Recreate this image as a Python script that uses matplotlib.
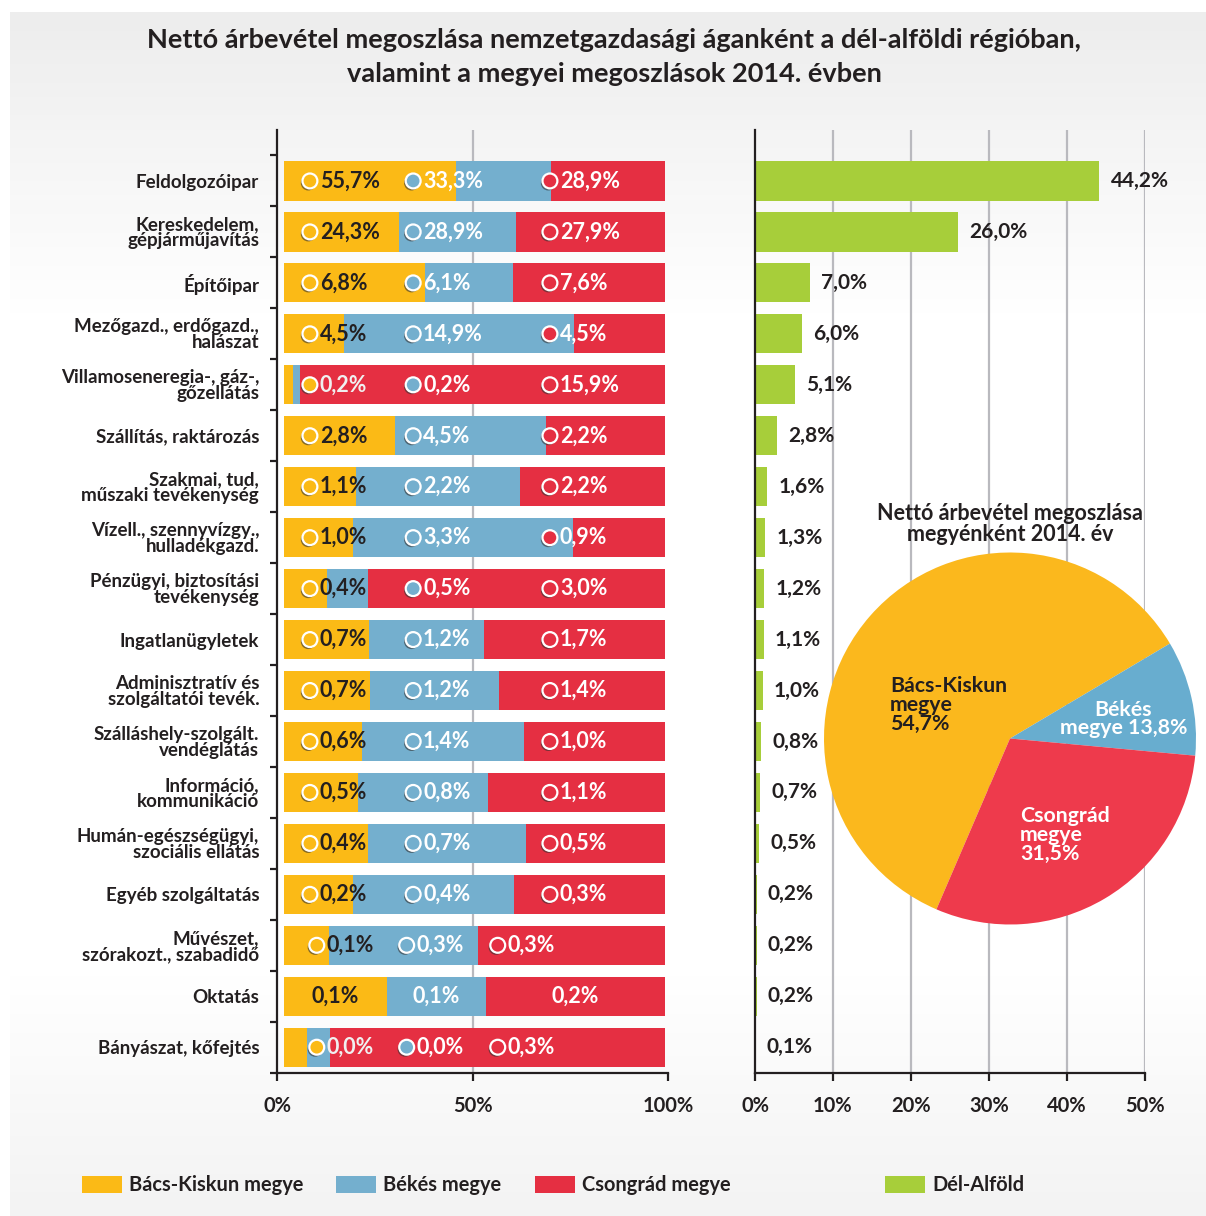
import matplotlib
matplotlib.use('Agg')
import matplotlib.pyplot as plt
import numpy as np
from matplotlib.patches import Patch
from matplotlib.colors import LinearSegmentedColormap
import matplotlib.patheffects as pe

plt.rcParams['font.family'] = ['Lato', 'DejaVu Sans']

# ---------------- data ----------------
title = ("Nettó árbevétel megoszlása nemzetgazdasági áganként a dél-alföldi régióban,\n"
         "valamint a megyei megoszlások 2014. évben")
pie_title = "Nettó árbevétel megoszlása\nmegyénként 2014. év"

categories = [
    "Feldolgozóipar", "Kereskedelem,\ngépjárműjavítás", "Építőipar",
    "Mezőgazd., erdőgazd.,\nhalászat", "Villamoseneregia-, gáz-,\ngőzellátás",
    "Szállítás, raktározás", "Szakmai, tud,\nműszaki tevékenység",
    "Vízell., szennyvízgy.,\nhulladékgazd.", "Pénzügyi, biztosítási\ntevékenység",
    "Ingatlanügyletek", "Adminisztratív és\nszolgáltatói tevék.",
    "Szálláshely-szolgált.\nvendéglátás", "Információ,\nkommunikáció",
    "Humán-egészségügyi,\nszociális ellátás", "Egyéb szolgáltatás",
    "Művészet,\nszórakozt., szabadidő", "Oktatás", "Bányászat, kőfejtés",
]

# bar segment widths (share of the sector's revenue by county, %)
bacs_width = [45.1, 30.2, 37.0, 15.7, 2.4, 29.1, 18.9, 18.1, 11.3, 22.3, 22.6, 20.5, 19.4, 22.0, 18.1, 11.9, 27.0, 6.0]
bekes_width = [25.0, 30.7, 23.1, 60.4, 1.8, 39.6, 43.0, 57.7, 10.8, 30.2, 33.9, 42.5, 34.1, 41.5, 42.3, 39.0, 26.0, 6.0]
csongrad_width = [29.9, 39.1, 39.9, 23.9, 95.8, 31.3, 38.1, 24.2, 77.9, 47.5, 43.5, 37.0, 46.5, 36.5, 39.6, 49.1, 47.0, 88.0]

# labelled values (share of the county's revenue by sector, %)
bacs_share = [55.7, 24.3, 6.8, 4.5, 0.2, 2.8, 1.1, 1.0, 0.4, 0.7, 0.7, 0.6, 0.5, 0.4, 0.2, 0.1, 0.1, 0.0]
bekes_share = [33.3, 28.9, 6.1, 14.9, 0.2, 4.5, 2.2, 3.3, 0.5, 1.2, 1.2, 1.4, 0.8, 0.7, 0.4, 0.3, 0.1, 0.0]
csongrad_share = [28.9, 27.9, 7.6, 4.5, 15.9, 2.2, 2.2, 0.9, 3.0, 1.7, 1.4, 1.0, 1.1, 0.5, 0.3, 0.3, 0.2, 0.3]

# Dél-Alföld region share
region_share = [44.2, 26.0, 7.0, 6.0, 5.1, 2.8, 1.6, 1.3, 1.2, 1.1, 1.0, 0.8, 0.7, 0.5, 0.2, 0.2, 0.2, 0.1]

# pie
pie_names = ["Bács-Kiskun\nmegye", "Békés\nmegye", "Csongrád\nmegye"]
pie_values = [54.7, 13.8, 31.5]
pie_drawn = [60.0, 10.0, 30.0]   # wedge sizes as drawn in the picture

left_tick_labels = ["0%", "50%", "100%"]
right_ticks = [0, 10, 20, 30, 40, 50]

legend_county = ["Bács-Kiskun megye", "Békés megye", "Csongrád megye"]
legend_region = "Dél-Alföld"

# ---------------- style ----------------
YEL = '#FBBA16'
BLU = '#74AFCE'
RED = '#E52F42'
GRN = '#A7CE3A'
PIE_COLS = ['#FBB81D', '#68ADCF', '#EE3A4C']
DARK = '#231F20'
GRID = '#B9B9BE'

def fmt(v):
    return f"{v:.1f}".replace('.', ',') + '%'

W, H = 1206, 1216
fig = plt.figure(figsize=(W / 100, H / 100), dpi=100)
fig.patch.set_facecolor('white')

# background gradient panel
bg = fig.add_axes([10 / W, 0, 1 - 10 / W, 1 - 12 / H], zorder=-10)
cmap = LinearSegmentedColormap.from_list(
    'bg', [(0, '#f3f3f3'), (0.2, '#ffffff'), (0.75, '#ffffff'), (1.0, '#ededed')])
grad = np.linspace(0, 1, 256).reshape(-1, 1)
bg.imshow(grad, aspect='auto', cmap=cmap, extent=[0, 1, 0, 1], origin='lower')
bg.axis('off')

def fx(px):
    return px / W

def fy(py):
    return 1 - py / H

y = np.arange(len(categories))
bh = 0.77
ax_bottom = fy(1072.7)
ax_height = (1072.7 - 130) / H

# ---------------- left: stacked bars ----------------
axL = fig.add_axes([fx(277.3), ax_bottom, 391 / W, ax_height])
axL.set_facecolor('none')
x0, x1 = -1.76, 100.87
bac = np.array(bacs_width)
bek = np.array(bekes_width)
cso = np.array(csongrad_width)
axL.barh(y, bac, height=bh, color=YEL, zorder=2)
axL.barh(y, bek, left=bac, height=bh, color=BLU, zorder=2)
axL.barh(y, cso, left=bac + bek, height=bh, color=RED, zorder=2)
axL.axvline(49.6, color=GRID, lw=1.6, zorder=1)
axL.set_xlim(x0, x1)
axL.set_ylim(17.5, -1.0)
for s in ['top', 'right']:
    axL.spines[s].set_visible(False)
for s in ['left', 'bottom']:
    axL.spines[s].set_color(DARK)
    axL.spines[s].set_linewidth(1.6)
axL.set_xticks([x0, 49.6, x1])
axL.set_xticklabels(left_tick_labels)
axL.tick_params(axis='x', length=6, width=1.6, color=DARK, pad=11,
                labelsize=14.5, labelcolor=DARK)
for t in axL.get_xticklabels():
    t.set_fontweight('bold')
axL.set_yticks(y)
axL.set_yticklabels(categories)
axL.set_yticks(np.arange(-0.5, 17.6, 1), minor=True)
axL.tick_params(axis='y', which='major', length=0, pad=13, labelsize=13.5, labelcolor=DARK)
axL.tick_params(axis='y', which='minor', length=5, width=1.6, color=DARK)
for t in axL.get_yticklabels():
    t.set_fontweight('bold')
    t.set_linespacing(0.93)

shadow = [pe.SimplePatchShadow(offset=(-1.2, -1.5), shadow_rgbFace='#333333', alpha=0.6), pe.Normal()]
default_pos = (6.8, 33.9, 69.8)
shifted_pos = (8.6, 32.2, 56.1)
series = [(bacs_share, YEL), (bekes_share, BLU), (csongrad_share, RED)]
LBL_FS = 15.5
for i in range(len(categories)):
    stack_ends = [bac[i], bac[i] + bek[i], 100]
    if i == 16:  # Oktatás: centered labels, no markers
        lefts = [0, bac[i], bac[i] + bek[i]]
        widths = [bac[i], bek[i], cso[i]]
        for k, (vals, col) in enumerate(series):
            c = DARK if k == 0 else 'white'
            axL.text(lefts[k] + widths[k] / 2, i, fmt(vals[i]), ha='center', va='center',
                     fontsize=LBL_FS, fontweight='bold', color=c, zorder=5)
        continue
    pos = shifted_pos if i in (15, 17) else default_pos
    for k, (vals, col) in enumerate(series):
        cx = pos[k]
        axL.scatter([cx], [i], s=115, color=col, edgecolor='white', linewidth=1.6,
                    zorder=4, path_effects=shadow)
        tx = cx + 2.6
        if k == 0:
            c = DARK if tx + 8 < stack_ends[1] else '#f0f0f0'
        else:
            c = 'white'
        axL.text(tx, i, fmt(vals[i]), ha='left', va='center', fontsize=LBL_FS,
                 fontweight='bold', color=c, zorder=5)

# ---------------- right: region bars ----------------
axR = fig.add_axes([fx(755), ax_bottom, 389.7 / W, ax_height])
axR.set_facecolor('none')
axR.barh(y, region_share, height=bh, color=GRN, zorder=2)
axR.set_xlim(0, 50)
axR.set_ylim(17.5, -1.0)
for v in right_ticks[1:]:
    axR.axvline(v, color=GRID, lw=1.6, zorder=1)
for s in ['top', 'right']:
    axR.spines[s].set_visible(False)
for s in ['left', 'bottom']:
    axR.spines[s].set_color(DARK)
    axR.spines[s].set_linewidth(1.6)
axR.set_xticks(right_ticks)
axR.set_xticklabels([f"{v}%" for v in right_ticks])
axR.tick_params(axis='x', length=6, width=1.6, color=DARK, pad=11,
                labelsize=14.5, labelcolor=DARK)
for t in axR.get_xticklabels():
    t.set_fontweight('bold')
axR.set_yticks([])
for i, v in enumerate(region_share):
    axR.annotate(fmt(v), (v, i), xytext=(8, 0), textcoords='offset points',
                 ha='left', va='center', fontsize=15, fontweight='bold', color=DARK, zorder=5)

# ---------------- pie ----------------
cx, cy, r = 1010, 738.5, 186
axP = fig.add_axes([fx(cx - r), fy(cy + r), 2 * r / W, 2 * r / H], zorder=5)
axP.pie(pie_drawn, colors=PIE_COLS, startangle=246.7, counterclock=False, radius=1,
        wedgeprops=dict(linewidth=0))
axP.set_xlim(-1, 1)
axP.set_ylim(-1, 1)
axP.set_aspect('equal')
axP.axis('off')
pie_text = [n + ("\n" if k != 1 else " ") + fmt(v) for k, (n, v) in enumerate(zip(pie_names, pie_values))]
PFS = 15.3
axP.text(-0.645, 0.18, pie_text[0], ha='left', va='center', fontsize=PFS,
         fontweight='bold', color=DARK, linespacing=0.92)
axP.text(0.61, 0.105, pie_text[1], ha='center', va='center', fontsize=PFS,
         fontweight='bold', color='white', linespacing=0.92)
axP.text(0.055, -0.52, pie_text[2], ha='left', va='center', fontsize=PFS,
         fontweight='bold', color='white', linespacing=0.92)
fig.text(fx(1010), fy(524), pie_title, ha='center', va='center', fontsize=15.5,
         fontweight='bold', color=DARK, linespacing=0.98)

# ---------------- title ----------------
fig.text(fx(614), fy(57), title, ha='center', va='center', fontsize=19.5,
         fontweight='bold', color=DARK, linespacing=1.5)

# ---------------- legends ----------------
LFS = 14.4
h1 = [Patch(facecolor=c, edgecolor='none') for c in (YEL, BLU, RED)]
leg1 = fig.legend(h1, legend_county, loc='center left', bbox_to_anchor=(fx(74), fy(1185)),
                  ncol=3, frameon=False, fontsize=LFS, handlelength=2.0, handleheight=0.95,
                  handletextpad=0.35, columnspacing=1.65, borderaxespad=0)
for t in leg1.get_texts():
    t.set_fontweight('bold')
    t.set_color(DARK)
h2 = [Patch(facecolor=GRN, edgecolor='none')]
leg2 = fig.legend(h2, [legend_region], loc='center left', bbox_to_anchor=(fx(877), fy(1185)),
                  frameon=False, fontsize=LFS, handlelength=2.0, handleheight=0.95,
                  handletextpad=0.35, borderaxespad=0)
for t in leg2.get_texts():
    t.set_fontweight('bold')
    t.set_color(DARK)

fig.savefig('out.png', dpi=100)
